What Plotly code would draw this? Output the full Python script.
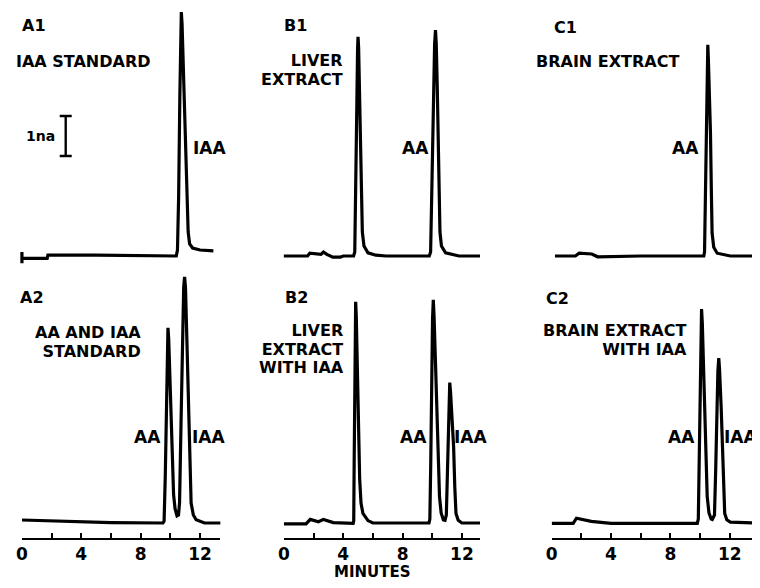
import plotly.graph_objects as go

# the page body adds an 8 px margin, so the figure is drawn 8 px in and 8 px down
OFF = 8
W, H = 760 - OFF, 588 - OFF

# ---------------- data (time in min, signal in nA) ----------------
a1_t = [0, 0, 0, 1.7, 1.75, 5.0, 10.4, 10.48, 10.56, 10.64, 10.70, 10.74, 10.79, 10.9, 11.02, 11.12, 11.2, 11.3, 11.5, 12.0, 12.9]
a1_v = [0.1, -0.18, -0.06, -0.06, 0.02, 0.02, 0.0, 0.15, 1.5, 4.0, 5.8, 6.1, 5.8, 4.5, 3.0, 1.4, 0.6, 0.3, 0.2, 0.15, 0.13]

a2_t = [0, 3, 6, 9.5, 9.58, 9.66, 9.74, 9.80, 9.84, 9.89, 9.98, 10.07, 10.15, 10.22, 10.32, 10.45, 10.55,
        10.62, 10.72, 10.82, 10.9, 10.96, 11.02, 11.12, 11.23, 11.32, 11.4, 11.55, 11.74, 12.3, 13.5]
a2_v = [0.075, 0.04, 0.01, 0.0, 0.05, 1.2, 3.2, 4.6, 4.88, 4.6, 3.6, 2.6, 1.4, 0.7, 0.35, 0.18, 0.2,
        0.5, 2.5, 4.6, 5.9, 6.15, 5.9, 4.5, 2.8, 1.4, 0.5, 0.2, 0.08, 0.0, 0.0]

b1_t = [0, 1.6, 1.75, 2.2, 2.5, 2.67, 2.9, 3.3, 3.8, 4.0, 4.7,
        4.78, 4.85, 4.92, 4.97, 5.0, 5.04, 5.1, 5.16, 5.22, 5.29, 5.4, 5.67, 6.2, 6.9, 9.8,
        9.89, 9.98, 10.08, 10.16, 10.22, 10.27, 10.34, 10.4, 10.46, 10.52, 10.62, 10.9, 11.8, 13.22]
b1_v = [0.0, 0.0, 0.07, 0.05, 0.04, 0.1, 0.04, -0.03, -0.03, 0.0, 0.0,
        0.1, 1.5, 3.8, 5.2, 5.48, 5.2, 4.2, 3.0, 1.6, 0.6, 0.25, 0.08, 0.02, 0.0, 0.0,
        0.1, 1.8, 4.0, 5.3, 5.65, 5.3, 4.2, 3.0, 1.6, 0.6, 0.25, 0.08, 0.0, 0.0]

b2_t = [0, 1.5, 1.78, 2.1, 2.33, 2.67, 3.33, 4.67,
        4.71, 4.74, 4.78, 4.81, 4.84, 4.88, 4.95, 5.05, 5.11, 5.2, 5.33, 5.67, 6.0, 9.78,
        9.84, 9.9, 9.96, 10.02, 10.07, 10.12, 10.22, 10.33, 10.42, 10.49, 10.6, 10.75, 10.86,
        10.95, 11.02, 11.08, 11.14, 11.18, 11.23, 11.33, 11.44, 11.52, 11.6, 11.75, 12.0, 13.22]
b2_v = [-0.02, -0.02, 0.09, 0.06, 0.03, 0.09, 0.01, -0.01,
        0.05, 1.5, 3.8, 5.2, 5.53, 5.2, 4.0, 2.7, 1.1, 0.5, 0.24, 0.06, 0.0, 0.0,
        0.1, 1.5, 3.6, 5.1, 5.58, 5.2, 4.0, 2.74, 1.4, 0.66, 0.25, 0.08, 0.07,
        0.2, 1.2, 2.5, 3.3, 3.51, 3.3, 2.7, 1.91, 0.9, 0.24, 0.07, 0.0, 0.0]

c1_t = [0.22, 1.6, 1.85, 2.3, 2.7, 3.1, 6.0, 10.25,
        10.3, 10.36, 10.42, 10.47, 10.52, 10.56, 10.63, 10.7, 10.76, 10.81, 10.92, 11.15, 12.04, 14.05]
c1_v = [0.0, 0.0, 0.07, 0.06, 0.05, -0.02, 0.0, 0.0,
        0.1, 1.5, 3.6, 4.9, 5.28, 4.9, 4.0, 3.07, 1.6, 0.57, 0.22, 0.07, 0.0, 0.0]

c2_t = [0, 1.45, 1.67, 2.0, 2.67, 4.0, 9.81,
        9.88, 9.94, 10.0, 10.05, 10.1, 10.15, 10.24, 10.32, 10.4, 10.48, 10.6, 10.75, 10.82,
        10.97, 11.05, 11.13, 11.2, 11.26, 11.31, 11.42, 11.52, 11.6, 11.66, 11.8, 12.04, 13.83]
c2_v = [-0.01, -0.01, 0.12, 0.09, 0.04, -0.01, -0.01,
        0.1, 1.5, 3.6, 4.9, 5.35, 5.0, 3.9, 2.74, 1.4, 0.66, 0.25, 0.1, 0.09,
        0.2, 1.3, 2.8, 3.8, 4.12, 3.85, 2.9, 1.91, 0.9, 0.24, 0.08, 0.02, 0.0]

tick_vals = [0, 2, 4, 6, 8, 10, 12]
tick_text = ["0", "", "4", "", "8", "", "12"]
scale_bar_t = [2.95]
scale_bar_mid = [3.0]
scale_bar_half = 0.5
x_title = "MINUTES"

# panel labels: (lines, screen px, screen py of block centre, anchor, size)
labels = [
    (["A1"], 14, 26, "left", 16), (["IAA STANDARD"], 5, 62, "left", 16),
    (["1na"], 51, 136, "right", 14), (["IAA"], 186, 148, "left", 17),
    (["B1"], 278, 26, "left", 16), (["LIVER", "EXTRACT"], 342, 70, "right", 16),
    (["AA"], 428, 148, "right", 17),
    (["C1"], 550, 27, "left", 16), (["BRAIN EXTRACT"], 532, 62, "left", 16),
    (["AA"], 701, 148, "right", 17),
    (["A2"], 12, 297, "left", 16), (["AA AND IAA", "STANDARD"], 138, 342, "right", 16),
    (["AA"], 158, 437, "right", 17), (["IAA"], 185, 437, "left", 17),
    (["B2"], 279, 297, "left", 16), (["LIVER", "EXTRACT", "WITH IAA"], 343, 349, "right", 16),
    (["AA"], 426, 437, "right", 17), (["IAA"], 450, 437, "left", 17),
    (["C2"], 542, 299, "left", 16), (["BRAIN EXTRACT", "WITH IAA"], 688, 340, "right", 16),
    (["AA"], 696, 437, "right", 17), (["IAA"], 722, 437, "left", 17),
]
LINE_GAP = 18.7  # px between stacked label lines

# ---------------- layout geometry (screen pixels) ----------------
FONT = "DejaVu Sans"
PX_PER_MIN = 14.96
PX_PER_NA = 40.0
cols = [  # origin px, axis start px, axis end px
    (16, 16, 216),
    (280, 280, 478),
    (550, 550, 757),
]
top_domain_px = (OFF, 275)
top_base_px = 256
bot_domain_px = (275, 538)
bot_base_px = 523

def xp(px):
    return min(max((px - OFF) / W, 0.0), 1.0)

def yp(py):
    return min(max(1 - (py - OFF) / H, 0.0), 1.0)

fig = go.Figure()
series = [(a1_t, a1_v), (b1_t, b1_v), (c1_t, c1_v), (a2_t, a2_v), (b2_t, b2_v), (c2_t, c2_v)]
line = dict(color="black", width=3.2)

layout = {}
for i, (t, v) in enumerate(series):
    row = 0 if i < 3 else 1
    col = i % 3
    n = i + 1
    origin, d0, d1 = cols[col]
    if row == 0:
        d0, d1 = max(d0 - 6, OFF), min(d1 + 6, 760)
    xname = "x" if n == 1 else f"x{n}"
    yname = "y" if n == 1 else f"y{n}"
    fig.add_trace(go.Scatter(x=t, y=v, mode="lines", line=line, xaxis=xname, yaxis=yname,
                             hoverinfo="skip", showlegend=False))
    xr = [(d0 - origin) / PX_PER_MIN, (d1 - origin) / PX_PER_MIN]
    if row == 0:
        yd = top_domain_px
        base = top_base_px
    else:
        yd = bot_domain_px
        base = bot_base_px
    yr = [(base - yd[1]) / PX_PER_NA, (base - yd[0]) / PX_PER_NA]
    xa = dict(domain=[xp(d0), xp(d1)], range=xr, anchor=yname, showgrid=False, zeroline=False,
              fixedrange=True)
    if row == 1:
        xa.update(showline=True, linecolor="black", linewidth=2, ticks="inside", ticklen=5,
                  tickwidth=2, tickcolor="black", tickvals=tick_vals, ticktext=tick_text,
                  tickfont=dict(family=FONT, size=17, color="black", weight="bold"))
    else:
        xa.update(visible=False)
    ya = dict(domain=[yp(yd[1]), yp(yd[0])], range=yr, anchor=xname, visible=False, fixedrange=True)
    layout["xaxis" if n == 1 else f"xaxis{n}"] = xa
    layout["yaxis" if n == 1 else f"yaxis{n}"] = ya

# scale bar (1 nA) in panel A1
fig.add_trace(go.Scatter(x=scale_bar_t, y=scale_bar_mid, mode="markers", xaxis="x", yaxis="y",
                         marker=dict(size=1, color="rgba(0,0,0,0)"), showlegend=False, hoverinfo="skip",
                         error_y=dict(type="constant", value=scale_bar_half, width=6, thickness=2.4,
                                      color="black")))

annotations = []
for lines, px, py, anc, size in labels:
    if len(lines) == 1:
        text = lines[0]
        base_size = size
    else:
        # Plotly spaces lines at 1.3 x the annotation font size; glyphs stay at `size`
        base_size = LINE_GAP / 1.3
        text = "<br>".join(f'<span style="font-size:{size}px">{ln}</span>' for ln in lines)
    annotations.append(dict(text=text, x=xp(px), y=yp(py), xref="paper", yref="paper",
                            xanchor=anc, yanchor="middle", align=anc, showarrow=False,
                            font=dict(family=FONT, size=base_size, color="black", weight="bold")))
annotations.append(dict(text=x_title, x=xp(369), y=yp(572), xref="paper", yref="paper",
                        xanchor="center", yanchor="middle", showarrow=False,
                        font=dict(family=FONT, size=15, color="black", weight="bold")))

fig.update_layout(width=W, height=H, margin=dict(l=0, r=0, t=0, b=0), paper_bgcolor="white",
                  plot_bgcolor="white", annotations=annotations, **layout)

fig.write_html("out.html")
